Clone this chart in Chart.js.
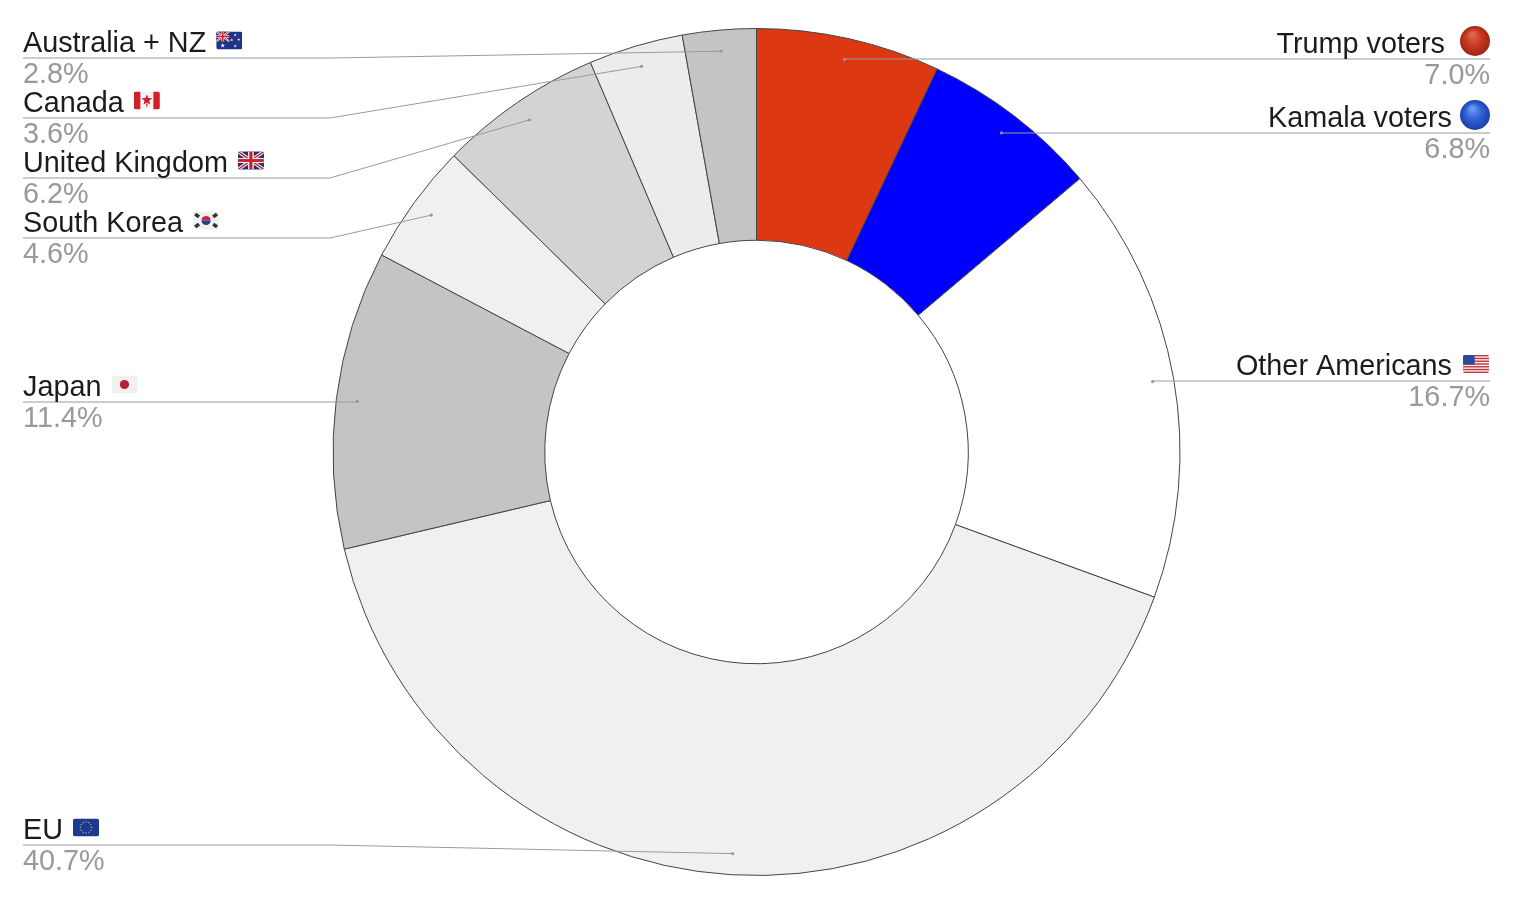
<!DOCTYPE html>
<html><head><meta charset="utf-8">
<style>html,body{margin:0;padding:0;background:#fff}canvas{display:block}</style>
<script src="https://cdn.jsdelivr.net/npm/chart.js@4"></script>
</head><body><canvas id="c" width="1524" height="908"></canvas>
<script>
const categories=["Trump voters","Kamala voters","Other Americans","EU","Japan","South Korea","United Kingdom","Canada","Australia + NZ"];
const shares=[7.0,6.8,16.7,40.66,11.36,4.62,6.24,3.6,2.8];
const sliceColors=["#dc3912","#0000ff","#ffffff","#f0f0f0","#c4c4c4","#f0f0f0","#d3d3d3","#ececec","#c4c4c4"];
const icons=["redball","blueball","us","eu","jp","kr","uk","ca","au"];
const labelLineY=[59,133,381,845,402,238,178,118,58];
const elbowX=[null,null,null,330,null,330,330,330,330];
const LEFT=23,RIGHT=1490,FONT='28.8px "Liberation Sans", Arial, sans-serif';

function flagBase(g,x,y,w,h,col){g.save();g.beginPath();g.roundRect(x,y,w,h,2);g.clip();g.fillStyle=col;g.fillRect(x,y,w,h);}
function star(g,cx,cy,r,col){g.fillStyle=col;g.beginPath();for(let i=0;i<10;i++){const a=-Math.PI/2+i*Math.PI/5,q=i%2?r*.45:r;g.lineTo(cx+q*Math.cos(a),cy+q*Math.sin(a));}g.closePath();g.fill();}
function union(g,x,y,w,h){
  g.fillStyle="#1f2f78";g.fillRect(x,y,w,h);
  g.lineWidth=h*.2;g.strokeStyle="#eee";g.beginPath();g.moveTo(x,y);g.lineTo(x+w,y+h);g.moveTo(x+w,y);g.lineTo(x,y+h);g.stroke();
  g.lineWidth=h*.08;g.strokeStyle="#c8202f";g.stroke();
  g.fillStyle="#eee";g.fillRect(x+w*.39,y,w*.22,h);g.fillRect(x,y+h*.36,w,h*.28);
  g.fillStyle="#c8202f";g.fillRect(x+w*.44,y,w*.12,h);g.fillRect(x,y+h*.42,w,h*.16);
}
function drawIcon(g,kind,x,cy){
  const w=26,h=18,y=cy-h/2;
  if(kind==="redball"||kind==="blueball"){
    const r=15,c=x+r,gr=g.createRadialGradient(c-3,cy-7,1,c,cy,r);
    if(kind==="redball"){gr.addColorStop(0,"#e06a50");gr.addColorStop(.5,"#c93a22");gr.addColorStop(1,"#a02614");}
    else{gr.addColorStop(0,"#6f9cf0");gr.addColorStop(.5,"#2f62d8");gr.addColorStop(1,"#1c3fa8");}
    g.fillStyle=gr;g.beginPath();g.arc(c,cy,r,0,Math.PI*2);g.fill();return;
  }
  if(kind==="us"){
    flagBase(g,x,y,w,h,"#f2f2f2");g.fillStyle="#c8323c";
    for(let i=0;i<7;i++)g.fillRect(x,y+i*2*h/13,w,h/13);
    g.fillStyle="#2c4a9a";g.fillRect(x,y,w*.45,h*7/13);
  }else if(kind==="eu"){
    flagBase(g,x,y,w,h,"#1c3a94");
    for(let i=0;i<12;i++){const a=i*Math.PI/6;g.fillStyle="#c8b84a";g.fillRect(x+w/2+5.6*Math.cos(a)-.6,cy+5.6*Math.sin(a)-.6,1.2,1.2);}
  }else if(kind==="jp"){
    flagBase(g,x,y,w,h,"#f0f0f0");g.fillStyle="#b81c3a";g.beginPath();g.arc(x+w/2,cy,4.6,0,Math.PI*2);g.fill();
  }else if(kind==="kr"){
    flagBase(g,x,y,w,h,"#f0f0f0");
    g.fillStyle="#d0253c";g.beginPath();g.arc(x+w/2,cy,4.6,Math.PI,0);g.fill();
    g.fillStyle="#1f3f8f";g.beginPath();g.arc(x+w/2,cy,4.6,0,Math.PI);g.fill();
    g.fillStyle="#333";for(const [dx,dy,s] of [[-9,-5,1],[9,-5,-1],[-9,5,-1],[9,5,1]]){g.save();g.translate(x+w/2+dx,cy+dy);g.rotate(s*Math.PI/5);g.fillRect(-2.4,-1.8,4.8,3.6);g.restore();}
  }else if(kind==="uk"){
    flagBase(g,x,y,w,h,"#1f2f78");union(g,x,y,w,h);
  }else if(kind==="ca"){
    flagBase(g,x,y,w,h,"#f3f3f3");g.fillStyle="#d0202c";g.fillRect(x,y,6.5,h);g.fillRect(x+w-6.5,y,6.5,h);
    star(g,x+w/2,cy-.5,5.6,"#d0202c");g.fillRect(x+w/2-.6,cy+3,1.2,3.2);
  }else if(kind==="au"){
    flagBase(g,x,y,w,h,"#1f3488");union(g,x,y,w*.5,h*.55);
    star(g,x+6.5,y+14,2.4,"#eee");
    for(const [dx,dy] of [[19,3.5],[15.5,8.5],[22.5,8],[19,14.5]])star(g,x+dx,y+dy,1.6,"#eee");
  }
  g.restore();
}

const labelsPlugin={id:"pieLabels",afterDatasetsDraw(chart){
  const g=chart.ctx,arcs=chart.getDatasetMeta(0).data;
  g.save();g.font=FONT;
  arcs.forEach((arc,i)=>{
    const mid=(arc.startAngle+arc.endAngle)/2,R=arc.outerRadius*.95;
    const ax=arc.x+R*Math.cos(mid),ay=arc.y+R*Math.sin(mid),ly=labelLineY[i];
    const isRight=ax>arc.x;
    g.strokeStyle="#9a9a9a";g.lineWidth=1;g.beginPath();g.moveTo(ax,ay);
    if(elbowX[i]!=null)g.lineTo(elbowX[i],ly);else g.lineTo(ax,ly);
    g.lineTo(isRight?RIGHT:LEFT,ly);g.stroke();
    g.fillStyle="rgba(150,150,150,.95)";g.beginPath();g.arc(ax,ay,1.6,0,Math.PI*2);g.fill();
    const name=categories[i],pct=shares[i].toFixed(1)+"%",nw=g.measureText(name).width;
    g.textBaseline="alphabetic";
    if(isRight){
      const ball=icons[i].endsWith("ball"),endX=i===0?1445:1452;
      g.textAlign="right";g.fillStyle="#1c1c1c";g.fillText(name,endX,ly-6.5);
      g.fillStyle="#999";g.fillText(pct,RIGHT,ly+25);
      drawIcon(g,icons[i],ball?RIGHT-30:RIGHT-27,ly-(ball?18:17));
    }else{
      g.textAlign="left";g.fillStyle="#1c1c1c";g.fillText(name,LEFT,ly-6.5);
      g.fillStyle="#999";g.fillText(pct,LEFT,ly+25);
      drawIcon(g,icons[i],LEFT+nw+10,ly-17.5);
    }
  });
  g.restore();
}};

new Chart(document.getElementById("c"),{
  type:"doughnut",
  data:{labels:categories,datasets:[{data:shares,backgroundColor:sliceColors,borderColor:"#444",borderWidth:1,borderAlign:"center",hoverOffset:0}]},
  options:{responsive:false,animation:false,cutout:"50%",devicePixelRatio:1,
    layout:{padding:{top:28,bottom:32,left:332.5,right:343.5}},
    plugins:{legend:{display:false},tooltip:{enabled:false},title:{display:false}}},
  plugins:[labelsPlugin]
});
</script></body></html>
